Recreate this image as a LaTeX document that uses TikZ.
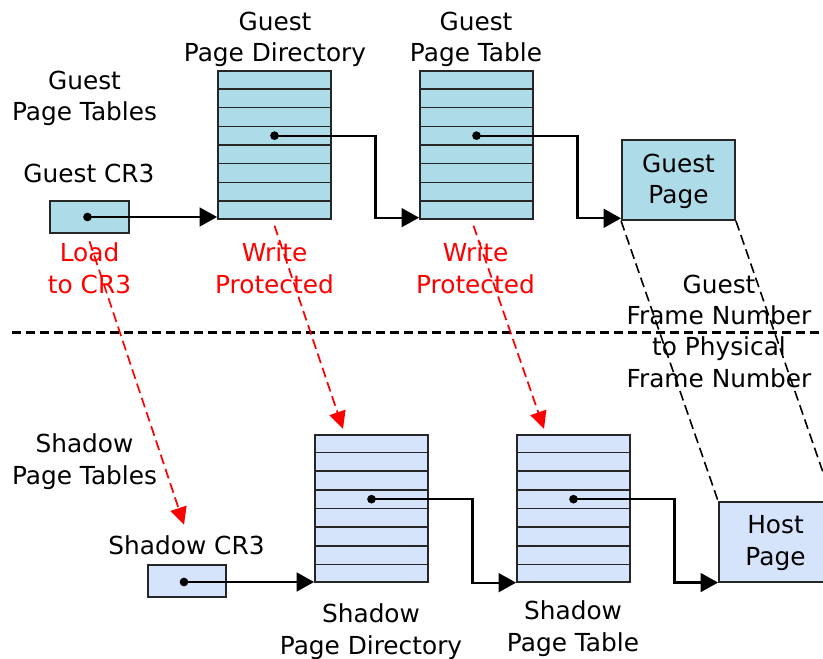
\documentclass[tikz,border=0pt]{standalone}
\usepackage{fontspec}
\setmainfont{DejaVu Sans}
\usetikzlibrary{calc,arrows.meta}
\definecolor{guestfill}{HTML}{ADDCE8}
\definecolor{shadowfill}{HTML}{D5E3FB}
\begin{document}
\begin{tikzpicture}[x=0.75pt,y=-0.75pt,
  lbl/.style={font=\fontsize{18.6}{23.3}\selectfont, align=center, anchor=base, inner sep=0pt},
  box/.style={draw=black!85, line width=1.4pt, inner sep=0pt, font=\fontsize{18.6}{23.3}\selectfont, align=center},
  guest/.style={box, fill=guestfill},
  shadow/.style={box, fill=shadowfill},
  tbl/.style={minimum width=84.75pt, minimum height=110.6pt},
  pagebox/.style={minimum width=84.75pt, minimum height=60pt},
  regbox/.style={minimum width=59pt, minimum height=24.5pt},
  rowline/.style={draw=black!85, line width=1.1pt},
  conn/.style={line width=1.6pt, -{Triangle[length=13pt,width=14pt]}},
  dot/.style={circle, fill=black, inner sep=0pt, minimum size=6.5pt},
  wp/.style={red, line width=1.3pt, dash pattern=on 7.5pt off 3.75pt, -{Triangle[length=13pt,width=12.5pt]}},
  map/.style={line width=1.2pt, dash pattern=on 7.5pt off 3.75pt},
]
\clip (0,0) rectangle (823,659);

% guest side
\node[guest, regbox] (gcr3) at (89.5,217) {};
\node[guest, tbl] (gpd) at (274.5,145) {};
\node[guest, tbl] (gpt) at (476.5,145) {};
\node[guest, pagebox] (gpage) at (678.5,180) {};
\node[lbl] (gpagetxt) at (678.5,204) {Guest\\Page};

% shadow side
\node[shadow, regbox] (scr3) at (187,581) {};
\node[shadow, tbl] (spd) at (371.5,508.5) {};
\node[shadow, tbl] (spt) at (573.5,508.5) {};
\node[shadow, pagebox] (hpage) at (775.5,542) {};
\node[lbl] (hpagetxt) at (775.5,565) {Host\\Page};

% table rows
\foreach \n in {gpd,gpt,spd,spt}
  \foreach \i in {1,...,7}
    \draw[rowline] ($(\n.north west)!{\i/8}!(\n.south west)$) -- ($(\n.north east)!{\i/8}!(\n.south east)$);

% dots
\node[dot] (gcd) at ($(gcr3.center)+(-2,0)$) {};
\node[dot] (gpdd) at ($(gpd.north)!0.4375!(gpd.south)$) {};
\node[dot] (gptd) at ($(gpt.north)!0.4375!(gpt.south)$) {};
\node[dot] (scd) at ($(scr3.center)+(-3,1)$) {};
\node[dot] (spdd) at ($(spd.north)!0.4375!(spd.south)$) {};
\node[dot] (sptd) at ($(spt.north)!0.4375!(spt.south)$) {};

% connectors
\coordinate (k1) at ($(gpd.south east)!0.5!(gpt.south west)+(0,-2)$);
\coordinate (k2) at ($(gpt.south east)!0.5!(gpage.south west)+(0,-2)$);
\coordinate (k3) at ($(spd.south east)!0.5!(spt.south west)+(0,-0.5)$);
\coordinate (k4) at ($(spt.south east)!0.5!(hpage.south west)+(0,-0.5)$);
\draw[conn] (gcd.center) -- (gcd.center -| gpd.west);
\draw[conn] (gpdd.center) -| (k1) -- (k1 -| gpt.west);
\draw[conn] (gptd.center) -| (k2) -- (k2 -| gpage.west);
\draw[conn] (scd.center) -- (scd.center -| spd.west);
\draw[conn] (spdd.center) -| (k3) -- (k3 -| spt.west);
\draw[conn] (sptd.center) -| (k4) -- (k4 -| hpage.west);

% mapping
\draw[map] (gpage.south west) -- (hpage.north west);
\draw[map] (gpage.south east) -- (hpage.north east);

% separator
\coordinate (sepl) at (12,332.5);
\coordinate (sepr) at (823,332.5);
\draw[line width=2.2pt, dash pattern=on 7pt off 3.5pt] (sepl) -- (sepr);

% labels (anchor = baseline of the last line)
\node[lbl] (lgpd) at (275,62) {Guest\\Page Directory};
\node[lbl] (lgpt) at (476,62) {Guest\\Page Table};
\node[lbl] (lgpts) at (84.5,121) {Guest\\Page Tables};
\node[lbl] (lgcr3) at (89,183) {Guest CR3};
\node[lbl, text=red] (lload) at (89.5,293) {Load\\to CR3};
\node[lbl, text=red] (lwp1) at (274.5,293) {Write\\Protected};
\node[lbl, text=red] (lwp2) at (475.5,293) {Write\\Protected};
\node[lbl] (lmap) at (719,387) {Guest\\Frame Number\\to Physical\\Frame Number};
\node[lbl] (lspts) at (84.5,484) {Shadow\\Page Tables};
\node[lbl] (lscr3) at (186.5,554) {Shadow CR3};
\node[lbl] (lspd) at (371,654) {Shadow\\Page Directory};
\node[lbl] (lspt) at (573,651) {Shadow\\Page Table};

% write-protect / load arrows
\draw[wp] ($(gcr3.south)+(0,7)$) -- ($(scr3.north)+(-3,-39)$);
\draw[wp] ($(gpd.south)+(0,6)$) -- ($(spd.north)+(-28.5,-5)$);
\draw[wp] ($(gpt.south)+(-3,6)$) -- ($(spt.north)+(-29.5,-5)$);
\end{tikzpicture}
\end{document}
